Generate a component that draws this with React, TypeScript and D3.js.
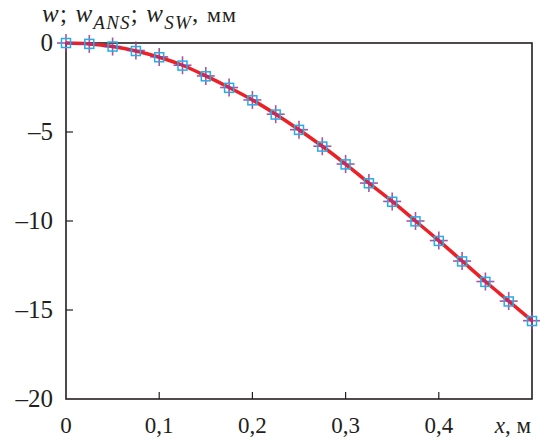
import React from "react";
import * as d3 from "d3";

const xs = [0, 0.025, 0.05, 0.075, 0.1, 0.125, 0.15, 0.175, 0.2, 0.225, 0.25, 0.275, 0.3, 0.325, 0.35, 0.375, 0.4, 0.425, 0.45, 0.475, 0.5];
const wLine = [0, -0.05, -0.2, -0.45, -0.8, -1.25, -1.85, -2.5, -3.2, -4.0, -4.87, -5.8, -6.8, -7.87, -8.9, -10.0, -11.1, -12.25, -13.4, -14.5, -15.6];
const wAns = [0, -0.05, -0.2, -0.45, -0.8, -1.27, -1.87, -2.52, -3.22, -4.02, -4.88, -5.82, -6.82, -7.88, -8.92, -10.02, -11.12, -12.27, -13.42, -14.52, -15.62];
const wSw = [0, -0.05, -0.2, -0.42, -0.78, -1.25, -1.85, -2.5, -3.2, -4.0, -4.87, -5.8, -6.8, -7.87, -8.9, -10.0, -11.1, -12.25, -13.4, -14.5, -15.6];
const xTicks = [0, 0.1, 0.2, 0.3, 0.4];
const yTicks = [0, -5, -10, -15, -20];

const W = 540, H = 441;
const L = 66, R = 532, T = 43, B = 399;
const FONT = { fontFamily: '"Liberation Serif"' };

export default function App() {
  const x = d3.scaleLinear().domain([0, 0.5]).range([L, R]);
  const y = d3.scaleLinear().domain([0, -20]).range([T, B]);
  const line = d3.line<number>().x((_, i) => x(xs[i])).y((d) => y(d)).curve(d3.curveMonotoneX);
  const fmt = (v: number) => (v === 0 ? "0" : String(v).replace(".", ","));
  return (
    <svg width={W} height={H} style={{ display: "block", position: "absolute", left: 0, top: 0 }}>
      <rect x={0} y={0} width={W} height={H} fill="#fff" />
      <rect x={L} y={T} width={R - L} height={B - T} fill="none" stroke="#231f20" strokeWidth={1.6} />
      {yTicks.slice(1, 4).map((t) => (
        <line key={"yt" + t} x1={L} x2={L + 7} y1={y(t)} y2={y(t)} stroke="#231f20" strokeWidth={1.2} />
      ))}
      {xTicks.slice(1).map((t) => (
        <line key={"xt" + t} x1={x(t)} x2={x(t)} y1={B} y2={B - 7} stroke="#231f20" strokeWidth={1.2} />
      ))}
      {yTicks.map((t) => (
        <text key={"yl" + t} x={53} y={y(t) + 8} textAnchor="end" fontSize={25} fill="#231f20" style={FONT}>
          {t === 0 ? "0" : "–" + Math.abs(t)}
        </text>
      ))}
      {xTicks.map((t) => (
        <text key={"xl" + t} x={x(t)} y={433} textAnchor="middle" fontSize={23} fill="#231f20" style={FONT}>
          {fmt(t)}
        </text>
      ))}
      <text x={531} y={433} textAnchor="end" fontSize={23} fill="#231f20" style={FONT}>
        <tspan fontStyle="italic">x</tspan>, м
      </text>
      <text x={42} y={22} fontSize={25} fill="#231f20" style={FONT} letterSpacing={1.2}>
        <tspan fontStyle="italic">w</tspan>
        <tspan>; </tspan>
        <tspan fontStyle="italic">w</tspan>
        <tspan fontStyle="italic" fontSize={19} dy={7}>ANS</tspan>
        <tspan dy={-7}>; </tspan>
        <tspan fontStyle="italic">w</tspan>
        <tspan fontStyle="italic" fontSize={19} dy={7}>SW</tspan>
        <tspan dy={-7}>, </tspan>
        <tspan fontSize={22}>мм</tspan>
      </text>
      <path d={line(wLine) || ""} fill="none" stroke="#ec2027" strokeWidth={3.5} />
      {wSw.map((v, i) => (
        <g key={"c" + i} stroke="#a0368f" strokeWidth={1.6} opacity={0.85}>
          <line x1={x(xs[i]) - 9} x2={x(xs[i]) + 9} y1={y(v)} y2={y(v)} />
          <line x1={x(xs[i])} x2={x(xs[i])} y1={y(v) - 9} y2={y(v) + 9} />
        </g>
      ))}
      {wAns.map((v, i) => (
        <rect key={"s" + i} x={x(xs[i]) - 4.5} y={y(v) - 4.5} width={9} height={9} fill="none" stroke="#25aee6" strokeWidth={1.5} />
      ))}
    </svg>
  );
}
